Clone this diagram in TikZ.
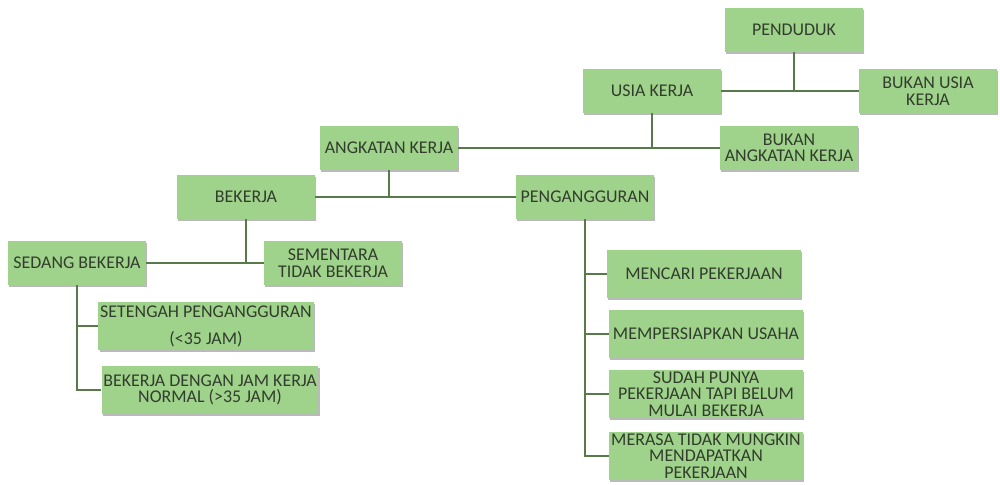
\documentclass[tikz,border=0pt]{standalone}
\usepackage{fontspec}
\setmainfont{Carlito}
\usetikzlibrary{shadows}
\definecolor{boxgreen}{HTML}{9FD28B}
\definecolor{linegreen}{HTML}{587A4A}
\definecolor{textgray}{HTML}{323D2D}
\begin{document}
\begin{tikzpicture}[x=0.02cm, y=-0.02cm,
                    main node/.style={rectangle, fill=boxgreen, text=textgray,
                      font=\fontsize{10.2}{9.4}\selectfont, align=center,
                      minimum width=2.76cm, minimum height=0.88cm, inner sep=1pt,
                      drop shadow={shadow xshift=0.8pt, shadow yshift=-1.2pt,
                        opacity=0.45, fill=gray!80!black}},
                    wide node/.style={main node, minimum width=3.88cm, minimum height=0.97cm},
                    link/.style={draw=linegreen, line width=1pt}]
    \useasboundingbox (0,0) rectangle (1000,484);

    \node[main node] (penduduk)  at (794,30)  {PENDUDUK};
    \node[main node] (usia)      at (652,91)  {USIA KERJA};
    \node[main node] (bukanusia) at (928,91)  {BUKAN USIA\\KERJA};
    \node[main node] (angkatan)  at (389,148) {ANGKATAN KERJA};
    \node[main node] (bukanak)   at (789,148) {BUKAN\\ANGKATAN KERJA};
    \node[main node] (bekerja)   at (246,197) {BEKERJA};
    \node[main node] (nganggur)  at (585,197) {PENGANGGURAN};
    \node[main node] (sedang)    at (77,263)  {SEDANG BEKERJA};
    \node[main node] (sementara) at (333,263) {SEMENTARA\\TIDAK BEKERJA};

    \node[wide node, minimum width=4.28cm] (setengah) at (206,326) {SETENGAH PENGANGGURAN\\[6pt](<35 JAM)};
    \node[wide node, minimum width=4.32cm] (normal)   at (210,390) {BEKERJA DENGAN JAM KERJA\\NORMAL (>35 JAM)};

    \node[wide node] (mencari)  at (704,274) {MENCARI PEKERJAAN};
    \node[wide node] (usaha)    at (706,334) {MEMPERSIAPKAN USAHA};
    \node[wide node] (punya)    at (706,394) {SUDAH PUNYA\\PEKERJAAN TAPI BELUM\\MULAI BEKERJA};
    \node[wide node] (merasa)   at (706,456) {MERASA TIDAK MUNGKIN\\MENDAPATKAN\\PEKERJAAN};

    % cabang atas
    \path[link] (penduduk) -- (penduduk |- usia)
                (usia) -- (bukanusia)
                (usia) -- (usia |- angkatan)
                (angkatan) -- (bukanak)
                (angkatan) -- (angkatan |- bekerja)
                (bekerja) -- (nganggur)
                (bekerja) -- (bekerja |- sedang)
                (sedang) -- (sementara);

    % cabang bawah
    \path[link] (sedang.south) |- (setengah.west)
                (sedang.south) |- (normal.west);
    \path[link] (nganggur.south) |- (mencari.west)
                (nganggur.south) |- (usaha.west)
                (nganggur.south) |- (punya.west)
                (nganggur.south) |- (merasa.west);
\end{tikzpicture}
\end{document}
